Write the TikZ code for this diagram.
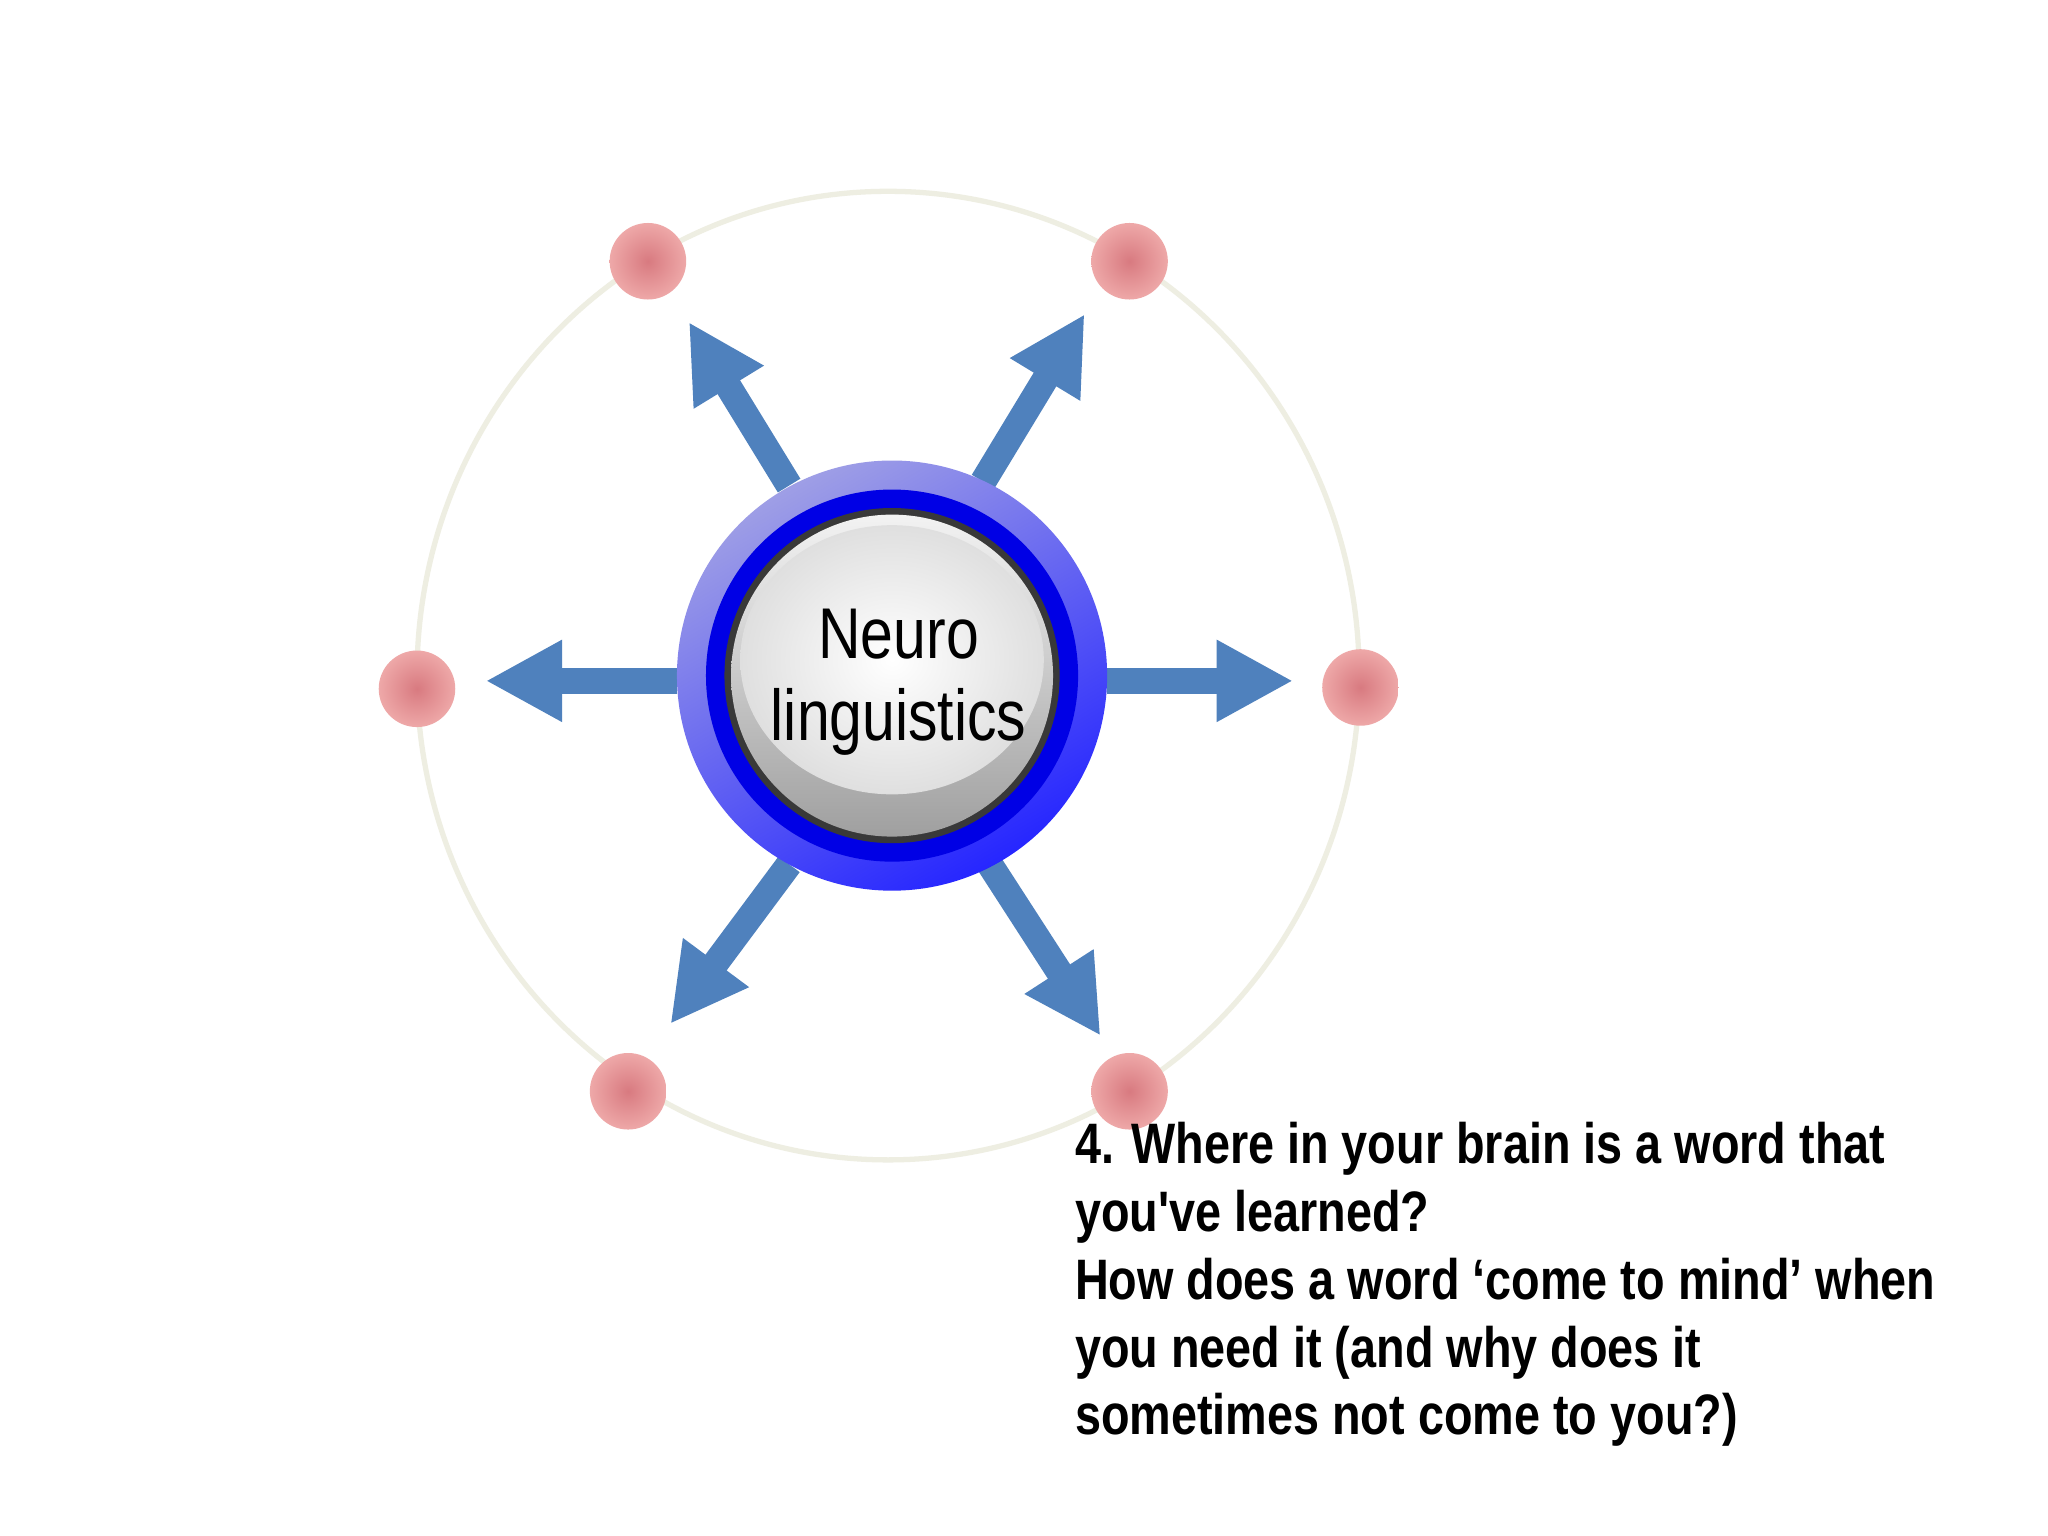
\documentclass[tikz,border=0pt]{standalone}
\usepackage{fontspec}
\setmainfont{Liberation Sans}
\newfontfamily\narrow[FakeStretch=0.82]{Liberation Sans}
\usetikzlibrary{arrows.meta}
\definecolor{arrowblue}{HTML}{4F81BD}
\definecolor{orbit}{HTML}{EEEEE2}
\definecolor{dotin}{HTML}{D87A80}
\definecolor{dotout}{HTML}{EEA8A8}
\tikzset{
  spoke/.style={arrowblue, line width=0.2cm, -{Triangle[width=0.58cm,length=0.58cm]}},
  dot/.style={circle, minimum size=0.58cm, inner sep=0pt, inner color=dotin, outer color=dotout},
}
\begin{document}
\begin{tikzpicture}[x=1cm,y=1cm]
\useasboundingbox (0,0) rectangle (15.52,11.64);
\fill[white] (0,0) rectangle (15.52,11.64);
% orbit
\draw[orbit, line width=0.04cm] (6.73,6.52) ellipse [x radius=3.57, y radius=3.67];
% dots
\node[dot] (d1) at (4.91,9.66) {};
\node[dot] (d2) at (8.56,9.66) {};
\node[dot] (d3) at (3.16,6.42) {};
\node[dot] (d4) at (10.31,6.43) {};
\node[dot] (d5) at (4.76,3.37) {};
\node[dot] (d6) at (8.56,3.37) {};
% spokes
\coordinate (s1) at (5.98,7.96); \coordinate (t1) at (5.22,9.20);
\coordinate (s2) at (7.45,7.99); \coordinate (t2) at (8.22,9.26);
\coordinate (s3) at (5.13,6.48); \coordinate (t3) at (3.68,6.48);
\coordinate (s4) at (8.39,6.48); \coordinate (t4) at (9.80,6.48);
\coordinate (s5) at (5.98,5.09); \coordinate (t5) at (5.08,3.88);
\coordinate (s6) at (7.50,5.09); \coordinate (t6) at (8.34,3.79);
\foreach \i in {1,...,6} \draw[spoke] (s\i) -- (t\i);
% central button
\node[circle, minimum size=3.26cm, inner sep=0pt, left color=blue!35!white!80!gray, right color=blue!85!white, shading angle=30] (ring) at (6.76,6.52) {};
\fill[blue!90!black] (ring.center) circle (1.41);
\fill[gray!45!black] (ring.center) circle (1.27);
\shade[top color=gray!10, bottom color=gray!75] (ring.center) circle (1.22);
\shade[inner color=white, outer color=gray!25] ([yshift=0.12cm]ring.center) ellipse [x radius=1.15, y radius=1.02];
\node[font=\narrow\fontsize{15.5}{18.5}\selectfont, align=center, inner sep=0pt] (lbl) at (6.81,6.47) {Neuro\\[-1pt]linguistics};
% question text
\node[anchor=north west, inner sep=0pt, align=left, font=\narrow\bfseries\fontsize{12.3}{14.6}\selectfont] (q) at (8.14,3.14)
{4. Where in your brain is a word that\\you've learned?\\How does a word ‘come to mind’ when\\you need it (and why does it\\sometimes not come to you?)};
\end{tikzpicture}
\end{document}
